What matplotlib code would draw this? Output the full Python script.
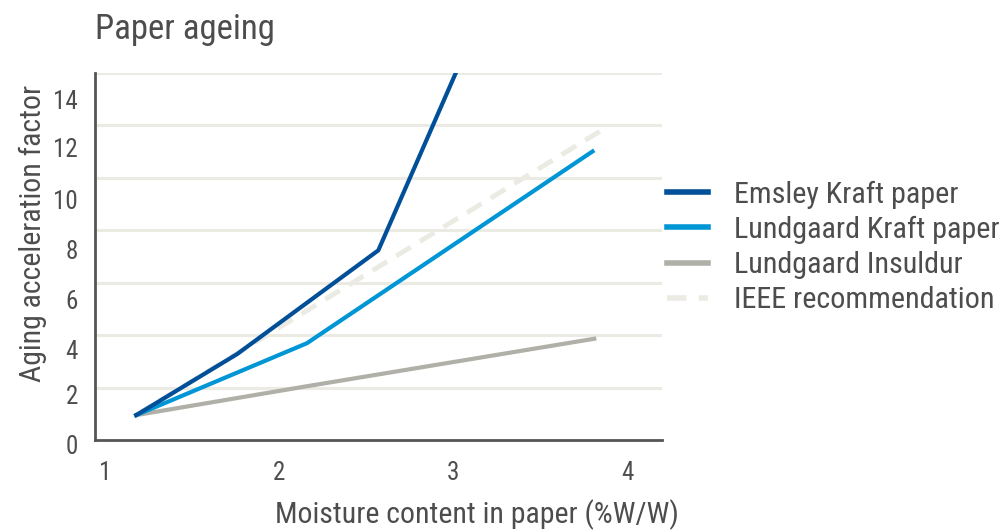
import matplotlib
matplotlib.use('Agg')
import matplotlib.pyplot as plt
import matplotlib.transforms as mtransforms

plt.rcParams['font.family'] = ['Roboto Condensed', 'Roboto', 'DejaVu Sans']

# moisture content (%W/W) vs aging acceleration factor
emsley_x = [1.18, 1.76, 2.57, 3.02]
emsley_y = [0.95, 3.28, 7.23, 14.07]
lund_kraft_x = [1.18, 2.16, 3.80]
lund_kraft_y = [0.95, 3.69, 11.0]
lund_insuldur_x = [1.18, 2.16, 3.81]
lund_insuldur_y = [0.95, 2.05, 3.86]
ieee_x = [1.18, 3.86]
ieee_y = [0.95, 11.84]

series_names = ['Emsley Kraft paper', 'Lundgaard Kraft paper',
                'Lundgaard Insuldur', 'IEEE recommendation']

xticks = [1, 2, 3, 4]
grid_vals = [2, 4, 6, 8, 10, 12, 14]
ytick_vals = [0, 2, 4, 6, 8, 10, 12, 14]
# the printed y labels sit a little below their gridlines
ytick_label_pos = [-0.28, 1.63, 3.34, 5.25, 7.16, 9.07, 11.05, 12.89]

text_col = '#4d4d4d'
spine_col = '#555555'
grid_col = '#ebebe4'

fig = plt.figure(figsize=(10.03, 5.32), dpi=100)
ax = fig.add_axes([0.0947, 0.1729, 0.5655, 0.6904])

for v in grid_vals:
    ax.axhline(v, color=grid_col, lw=2.2, zorder=0)

ax.plot(ieee_x, ieee_y, color='#ebebe4', lw=3.5, dashes=(3.5, 2.2),
        solid_capstyle='butt', label=series_names[3], zorder=1)
ax.plot(lund_insuldur_x, lund_insuldur_y, color='#b0b0a8', lw=3,
        label=series_names[2], zorder=2)
ax.plot(lund_kraft_x, lund_kraft_y, color='#0096d6', lw=3,
        label=series_names[1], zorder=3)
ax.plot(emsley_x, emsley_y, color='#004f98', lw=3,
        label=series_names[0], zorder=4)

ax.set_xlim(0.943, 4.20)
ax.set_ylim(0, 14)

for s in ['top', 'right']:
    ax.spines[s].set_visible(False)
for s in ['left', 'bottom']:
    ax.spines[s].set_color(spine_col)
    ax.spines[s].set_linewidth(2)

ax.set_xticks(xticks)
ax.tick_params(axis='x', length=0, pad=15, labelsize=18, labelcolor=text_col)
ax.set_yticks([])

trans = mtransforms.blended_transform_factory(ax.transAxes, ax.transData)
for v, pos in zip(ytick_vals, ytick_label_pos):
    ax.text(-0.03, pos, str(v), transform=trans, ha='right', va='center',
            fontsize=18, color=text_col, clip_on=False)

handles, labels = ax.get_legend_handles_labels()
order = [3, 2, 1, 0]
leg = ax.legend([handles[i] for i in order], [labels[i] for i in order],
                loc='center left', bbox_to_anchor=(1.0, 0.5245), frameon=False,
                fontsize=21.7, handlelength=1.37, handletextpad=0.85,
                labelspacing=0.24, borderpad=0, borderaxespad=0.15,
                labelcolor=text_col)
for line in leg.get_lines():
    line.set_linewidth(4)

fig.text(95 / 1003, 1 - 30 / 532, 'Paper ageing', fontsize=25,
         color=text_col, ha='left', va='center')
fig.text(477 / 1003, 1 - 515 / 532, 'Moisture content in paper (%W/W)',
         fontsize=21.5, color=text_col, ha='center', va='center')
fig.text(33 / 1003, 1 - 233 / 532, 'Aging acceleration factor',
         fontsize=21.5, color=text_col, ha='center', va='center', rotation=90)

fig.savefig('out.png', dpi=100)
